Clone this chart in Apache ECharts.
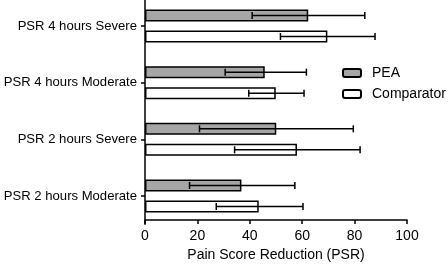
<!DOCTYPE html>
<html>
<head>
<meta charset="utf-8">
<script src="https://cdn.jsdelivr.net/npm/echarts@6/dist/echarts.min.js"></script>
<style>
  html, body { margin: 0; padding: 0; background: #fff; }
  #chart { width: 448px; height: 264px; }
</style>
</head>
<body>
<div id="chart"></div>
<script>
// categories from top to bottom
const categories = ['PSR 4 hours Severe', 'PSR 4 hours Moderate', 'PSR 2 hours Severe', 'PSR 2 hours Moderate'];
const peaMean = [62.3, 45.7, 50.1, 36.8];
const peaLow = [40.9, 30.6, 20.8, 17.0];
const peaHigh = [83.9, 61.6, 79.5, 57.2];
const compMean = [69.6, 49.9, 58.0, 43.4];
const compLow = [51.7, 39.6, 34.2, 27.2];
const compHigh = [87.8, 60.7, 82.1, 60.3];
const xTicks = [0, 20, 40, 60, 80, 100];

const font = 'Liberation Sans, Arial, sans-serif';

// error bar drawn with a custom series, shifted to sit on its own bar
function errorBar(shift) {
  return function (params, api) {
    const y = api.value(0);
    const a = api.coord([api.value(1), y]);
    const b = api.coord([api.value(2), y]);
    const cy = a[1] + shift;
    const st = { stroke: '#000', lineWidth: 1.5 };
    return {
      type: 'group',
      children: [
        { type: 'line', shape: { x1: a[0], y1: cy, x2: b[0], y2: cy }, style: st },
        { type: 'line', shape: { x1: a[0], y1: cy - 3.5, x2: a[0], y2: cy + 3.5 }, style: st },
        { type: 'line', shape: { x1: b[0], y1: cy - 3.5, x2: b[0], y2: cy + 3.5 }, style: st }
      ]
    };
  };
}

const chart = echarts.init(document.getElementById('chart'));
chart.setOption({
  animation: false,
  textStyle: { fontFamily: font },
  grid: { left: 145, right: 41, top: -2.3, height: 226.6, outerBoundsMode: 'none', containLabel: false },
  legend: {
    orient: 'vertical',
    left: 337,
    top: 61,
    itemWidth: 18,
    itemHeight: 8,
    itemGap: 7,
    textStyle: { fontSize: 14, color: '#000', fontFamily: font, padding: [0, 0, 0, 6] },
    data: ['PEA', 'Comparator']
  },
  xAxis: {
    type: 'value',
    min: xTicks[0],
    max: xTicks[xTicks.length - 1],
    interval: 20,
    offset: -4.3,
    name: 'Pain Score Reduction (PSR)',
    nameLocation: 'middle',
    nameGap: 22,
    nameTextStyle: { fontSize: 14, color: '#000', fontFamily: font },
    axisLine: { show: true, lineStyle: { color: '#000', width: 1.5 } },
    axisTick: { show: true, length: 4, lineStyle: { color: '#000', width: 1.5 } },
    axisLabel: { fontSize: 14, color: '#000', margin: 9 },
    splitLine: { show: false }
  },
  yAxis: {
    type: 'category',
    inverse: true,
    data: categories,
    axisLine: { show: true, lineStyle: { color: '#000', width: 1.5 } },
    axisTick: { show: true, alignWithLabel: true, length: 4, lineStyle: { color: '#000', width: 1.5 } },
    axisLabel: { fontSize: 13.1, color: '#000', margin: 8 }
  },
  series: [
    {
      name: 'PEA',
      type: 'bar',
      data: peaMean,
      barWidth: 12,
      barGap: '75%',
      itemStyle: { color: '#a6a6a6', borderColor: '#000', borderWidth: 1.5 }
    },
    {
      name: 'Comparator',
      type: 'bar',
      data: compMean,
      barWidth: 12,
      barGap: '75%',
      itemStyle: { color: '#fff', borderColor: '#000', borderWidth: 1.5 }
    },
    {
      type: 'custom',
      renderItem: errorBar(-10.5),
      encode: { x: [1, 2], y: 0 },
      data: categories.map((c, i) => [i, peaLow[i], peaHigh[i]]),
      z: 5
    },
    {
      type: 'custom',
      renderItem: errorBar(10.5),
      encode: { x: [1, 2], y: 0 },
      data: categories.map((c, i) => [i, compLow[i], compHigh[i]]),
      z: 5
    }
  ]
});
</script>
</body>
</html>
